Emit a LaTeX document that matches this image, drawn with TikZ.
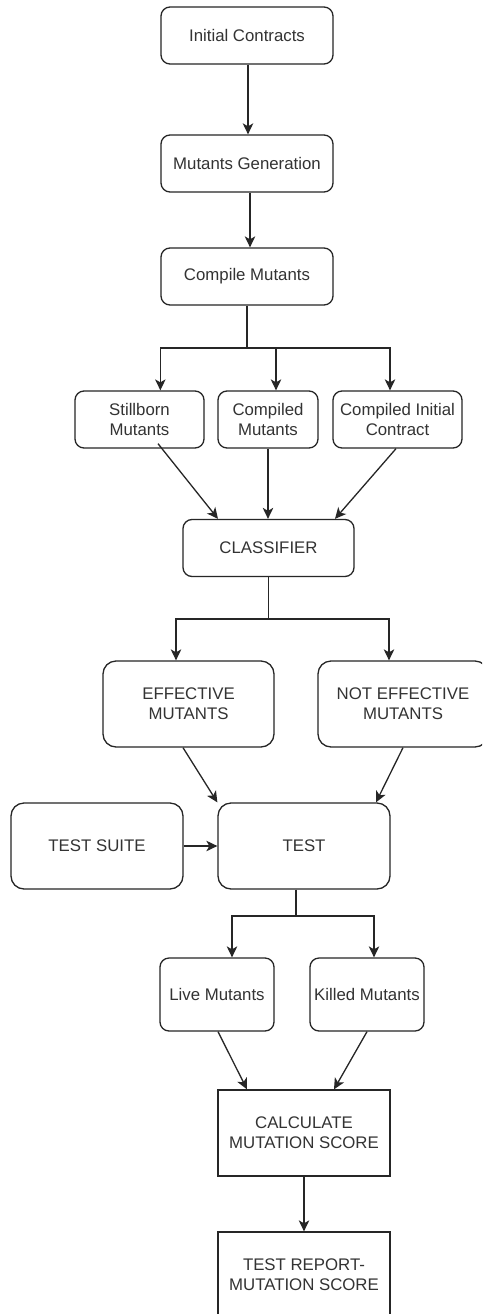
\documentclass[tikz,border=0pt]{standalone}
\usepackage{fontspec}
\setmainfont{Liberation Sans}
\usetikzlibrary{arrows.meta,calc}
\definecolor{txt}{HTML}{333333}
\begin{document}
\begin{tikzpicture}[x=1pt,y=-1pt,
  base/.style={draw=black!85,line width=1.3pt,text=txt,align=center,inner sep=0pt,
    font=\fontsize{16.8}{20}\selectfont},
  rbox/.style={base,rounded corners=9pt},
  bbox/.style={base,rounded corners=13pt},
  sbox/.style={base},
  conn/.style={draw=black!85,line width=1.3pt,-{Stealth[length=11pt,width=10.5pt,inset=3pt]}},
  line/.style={draw=black!85,line width=1.3pt}]
\useasboundingbox (0,0) rectangle (482,1314);
\clip (0,0) rectangle (482,1314);
\fill[white] (0,0) rectangle (482,1314);

\node[rbox,minimum width=172pt,minimum height=57pt] (ic) at (247,35.5) {Initial Contracts};
\node[rbox,minimum width=172pt,minimum height=57pt] (mg) at (247,163.5) {Mutants Generation};
\node[rbox,minimum width=172pt,minimum height=57pt] (cm) at (247,276.5) {Compile Mutants};
\node[rbox,minimum width=129pt,minimum height=57pt] (sb) at (139.5,419.5) {Stillborn\\Mutants};
\node[rbox,minimum width=100pt,minimum height=57pt] (cmu) at (268,419.5) {Compiled\\Mutants};
\node[rbox,minimum width=129pt,minimum height=57pt] (cic) at (397.5,419.5) {Compiled Initial\\Contract};
\node[rbox,minimum width=171pt,minimum height=57pt] (cl) at (268.5,548) {CLASSIFIER};
\node[bbox,minimum width=171pt,minimum height=86pt] (em) at (188.5,704) {EFFECTIVE\\MUTANTS};
\node[bbox,minimum width=170pt,minimum height=86pt] (nem) at (403,704) {NOT EFFECTIVE\\MUTANTS};
\node[bbox,minimum width=172pt,minimum height=86pt] (ts) at (97,846) {TEST SUITE};
\node[bbox,minimum width=172pt,minimum height=86pt] (test) at (304,846) {TEST};
\node[rbox,minimum width=114pt,minimum height=73pt] (lm) at (217,994.5) {Live Mutants};
\node[rbox,minimum width=114pt,minimum height=73pt] (km) at (367,994.5) {Killed Mutants};
\node[sbox,minimum width=172pt,minimum height=86pt] (calc) at (304,1133) {CALCULATE\\MUTATION SCORE};
\node[sbox,minimum width=172pt,minimum height=86pt] (tr) at (304,1275) {TEST REPORT-\\MUTATION SCORE};

\coordinate (s1) at (247,348);
\coordinate (s2) at (268.5,619);
\coordinate (s3) at (296,916);

\draw[conn] ([xshift=1pt]ic.south) -- ([xshift=1pt]mg.north);
\draw[conn] ([xshift=3pt]mg.south) -- ([xshift=3pt]cm.north);

\draw[line] (cm.south) -- (s1);
\draw[conn] (s1) -| (sb.north -| cm.west);
\draw[conn] (s1) -| ([xshift=8pt]cmu.north);
\draw[conn] (s1) -| ([xshift=-7.5pt]cic.north);

\draw[conn] ([xshift=18.5pt,yshift=5pt]sb.south) -- ([xshift=-50.5pt]cl.north);
\draw[conn] (cmu.south) -- (cmu.south |- cl.north);
\draw[conn] ([xshift=-1.5pt]cic.south) -- ([xshift=66.5pt]cl.north);

\draw[line] (cl.south) -- (s2);
\draw[conn] (s2) -| ([xshift=-12.5pt]em.north);
\draw[conn] (s2) -| ([xshift=-14pt]nem.north);

\draw[conn] ([xshift=-5.5pt]em.south) -- (test.north west);
\draw[conn] (nem.south) -- ([xshift=72pt]test.north);
\draw[conn] (ts.east) -- (test.west);

\draw[line] (test.south -| s3) -- (s3);
\draw[conn] (s3) -| ([xshift=15pt]lm.north);
\draw[conn] (s3) -| ([xshift=7pt]km.north);

\draw[conn] ([xshift=1pt]lm.south) -- ([xshift=-57pt]calc.north);
\draw[conn] (km.south) -- ([xshift=30pt]calc.north);
\draw[conn] (calc.south) -- (tr.north);
\end{tikzpicture}
\end{document}
